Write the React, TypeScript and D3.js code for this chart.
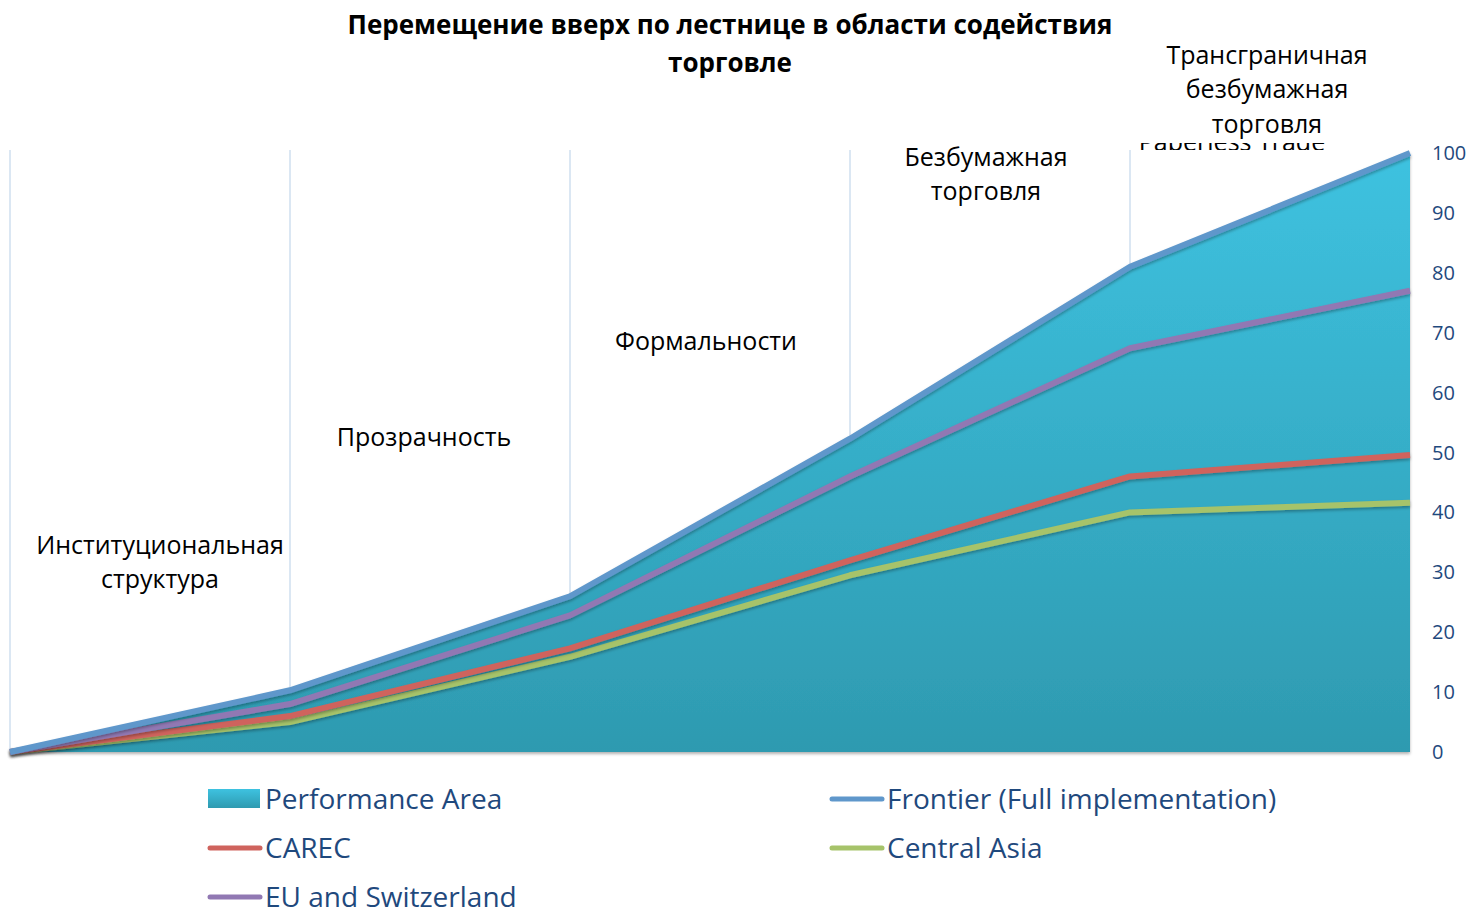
import React, { useEffect, useRef } from 'react';
import * as d3 from 'd3';

// stages of the ladder (x categories)
const stages = [
  'Start',
  'Институциональная структура',
  'Прозрачность',
  'Формальности',
  'Безбумажная торговля',
  'Трансграничная безбумажная торговля',
];

// label lines drawn above each step
const stageLabels = [
  ['Институциональная', 'структура'],
  ['Прозрачность'],
  ['Формальности'],
  ['Безбумажная', 'торговля'],
  ['Трансграничная', 'безбумажная', 'торговля'],
];

const performanceArea = [0, 10.3, 26, 52.3, 81, 100];
const frontier = [0, 10.3, 26, 52.3, 81, 100];
const eu = [0, 8, 22.8, 46, 67.4, 77];
const carec = [0, 6, 17.3, 32, 46, 49.6];
const centralAsia = [0, 5, 15.9, 29.5, 40, 41.6];

const yTicks = [0, 10, 20, 30, 40, 50, 60, 70, 80, 90, 100];

const lineSeries = [
  { name: 'Frontier (Full implementation)', values: frontier, color: '#5f97cb' },
  { name: 'EU and Switzerland', values: eu, color: '#9178b3' },
  { name: 'CAREC', values: carec, color: '#cf635d' },
  { name: 'Central Asia', values: centralAsia, color: '#a6c36a' },
];

const W = 1469;
const H = 912;

const App = () => {
  const svgRef = useRef<SVGSVGElement>(null);

  useEffect(() => {
    const svg = d3.select(svgRef.current);
    svg.selectAll('*').remove();

    const font = "'Open Sans', sans-serif";
    const x = d3.scalePoint<number>().domain(d3.range(stages.length)).range([10, 1410]);
    const y = d3.scaleLinear().domain([0, 100]).range([752, 153]);

    const defs = svg.append('defs');
    const grad = defs.append('linearGradient')
      .attr('id', 'areaGrad').attr('x1', 0).attr('y1', 0).attr('x2', 0).attr('y2', 1);
    grad.append('stop').attr('offset', '0%').attr('stop-color', '#3ec2e0');
    grad.append('stop').attr('offset', '100%').attr('stop-color', '#2e9ab0');

    const lgGrad = defs.append('linearGradient')
      .attr('id', 'legGrad').attr('x1', 0).attr('y1', 0).attr('x2', 0).attr('y2', 1);
    lgGrad.append('stop').attr('offset', '0%').attr('stop-color', '#3ec2e0');
    lgGrad.append('stop').attr('offset', '100%').attr('stop-color', '#2e9ab0');

    const shadow = defs.append('filter').attr('id', 'shadow')
      .attr('x', '-5%').attr('y', '-20%').attr('width', '110%').attr('height', '140%');
    shadow.append('feDropShadow')
      .attr('dx', 0).attr('dy', 2).attr('stdDeviation', 1.5)
      .attr('flood-color', '#000').attr('flood-opacity', 0.3);

    // the old english label is hidden behind a white box, only its bottom peeks out
    const clip = defs.append('clipPath').attr('id', 'peek');
    clip.append('rect').attr('x', 1130).attr('y', 143).attr('width', 280).attr('height', 7);

    // vertical gridlines
    svg.append('g')
      .selectAll('line')
      .data(d3.range(stages.length - 1))
      .enter().append('line')
      .attr('x1', d => x(d)!)
      .attr('x2', d => x(d)!)
      .attr('y1', 150)
      .attr('y2', y(0))
      .attr('stroke', '#dbe7f3')
      .attr('stroke-width', 2);

    // performance area
    const area = d3.area<number>()
      .x((_, i) => x(i)!)
      .y0(y(0))
      .y1(d => y(d));
    svg.append('path')
      .datum(performanceArea)
      .attr('d', area)
      .attr('fill', 'url(#areaGrad)')
      .attr('filter', 'url(#shadow)');

    // series lines
    const line = d3.line<number>()
      .x((_, i) => x(i)!)
      .y(d => y(d));
    svg.append('g')
      .selectAll('path')
      .data(lineSeries.slice().reverse())
      .enter().append('path')
      .attr('d', d => line(d.values))
      .attr('fill', 'none')
      .attr('stroke', d => d.color)
      .attr('stroke-width', 6)
      .attr('stroke-linejoin', 'round')
      .attr('filter', 'url(#shadow)');

    // right axis labels
    svg.append('g')
      .selectAll('text')
      .data(yTicks)
      .enter().append('text')
      .attr('x', 1432)
      .attr('y', d => y(d))
      .attr('dy', '0.35em')
      .style('font-family', font)
      .style('font-size', '20px')
      .attr('fill', '#1f497d')
      .text(d => d);

    // title
    const title = svg.append('text')
      .attr('text-anchor', 'middle')
      .style('font-family', font)
      .style('font-weight', 'bold')
      .style('font-size', '26px')
      .attr('fill', '#000');
    title.append('tspan').attr('x', 730).attr('y', 34).text('Перемещение вверх по лестнице в области содействия');
    title.append('tspan').attr('x', 730).attr('y', 72).text('торговле');

    svg.append('text')
      .attr('x', 1232).attr('y', 151)
      .attr('text-anchor', 'middle')
      .attr('clip-path', 'url(#peek)')
      .style('font-family', font)
      .style('font-size', '25px')
      .attr('fill', '#000')
      .text('Paperless Trade');

    // stage labels
    const labelPos = [
      { cx: 160, top: 545 },
      { cx: 424, top: 437 },
      { cx: 706, top: 341 },
      { cx: 986, top: 157 },
      { cx: 1267, top: 55 },
    ];
    stageLabels.forEach((lines, i) => {
      const t = svg.append('text')
        .attr('text-anchor', 'middle')
        .style('font-family', font)
        .style('font-size', '25px')
        .attr('fill', '#000');
      lines.forEach((l, j) => {
        t.append('tspan')
          .attr('x', labelPos[i].cx)
          .attr('y', labelPos[i].top + j * 34.5)
          .attr('dy', '0.35em')
          .text(l);
      });
    });

    // legend
    const legendItems = [
      { name: 'Performance Area', type: 'area', color: 'url(#legGrad)', col: 0, row: 0 },
      { name: 'Frontier (Full implementation)', type: 'line', color: '#5f97cb', col: 1, row: 0 },
      { name: 'CAREC', type: 'line', color: '#cf635d', col: 0, row: 1 },
      { name: 'Central Asia', type: 'line', color: '#a6c36a', col: 1, row: 1 },
      { name: 'EU and Switzerland', type: 'line', color: '#9178b3', col: 0, row: 2 },
    ];
    const colX = [208, 830];
    const leg = svg.append('g');
    legendItems.forEach(d => {
      const cy = 799 + d.row * 49;
      const gx = colX[d.col];
      if (d.type === 'area') {
        leg.append('rect')
          .attr('x', gx).attr('y', cy - 10).attr('width', 52).attr('height', 19)
          .attr('fill', d.color);
      } else {
        leg.append('line')
          .attr('x1', gx + 2).attr('x2', gx + 52)
          .attr('y1', cy).attr('y2', cy)
          .attr('stroke', d.color)
          .attr('stroke-width', 5)
          .attr('stroke-linecap', 'round');
      }
      leg.append('text')
        .attr('x', gx + 57)
        .attr('y', cy)
        .attr('dy', '0.35em')
        .style('font-family', font)
        .style('font-size', '28px')
        .attr('fill', '#1f497d')
        .text(d.name);
    });
  }, []);

  return (
    <div style={{ width: W, height: H }}>
      <svg ref={svgRef} width={W} height={H} style={{ position: 'absolute', left: 0, top: 0 }} />
    </div>
  );
};

export default App;
